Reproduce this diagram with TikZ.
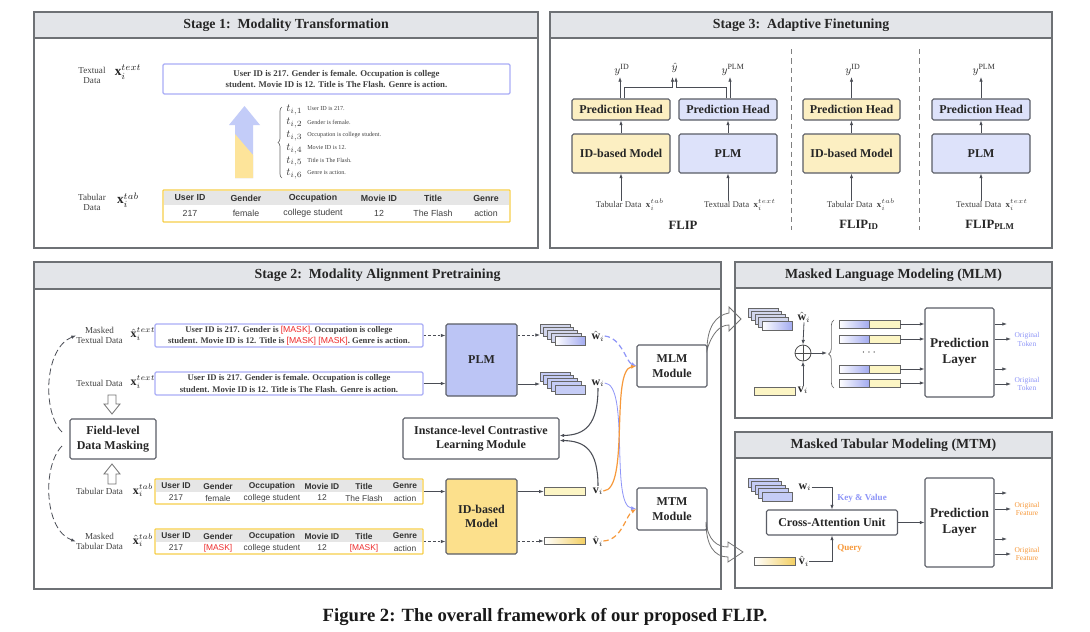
\documentclass[tikz,border=0pt]{standalone}
\usepackage{fontspec}
\setmainfont{Liberation Serif}
\setsansfont{Liberation Sans}
\usepackage{amsmath}
\usetikzlibrary{arrows.meta,decorations.pathreplacing,calc}
\definecolor{panelc}{HTML}{6E7175}
\definecolor{titlec}{HTML}{E3E5E9}
\definecolor{boxc}{HTML}{5A5D66}
\definecolor{blueA}{HTML}{DDE2FA}
\definecolor{yelA}{HTML}{FCEFC2}
\definecolor{blueB}{HTML}{BCC5F5}
\definecolor{yelB}{HTML}{FCE08C}
\definecolor{lav}{HTML}{A9ADF6}
\definecolor{tabY}{HTML}{F6CF4A}
\definecolor{hdr}{HTML}{E6E6E6}
\definecolor{maskred}{HTML}{EE2B2B}
\definecolor{conB}{HTML}{8E95F8}
\definecolor{conO}{HTML}{F7993B}
\definecolor{arrc}{HTML}{4A4D55}
\definecolor{arrowblue}{HTML}{C3CCF8}
\definecolor{arrowyel}{HTML}{FDE49A}
\definecolor{barY}{HTML}{FCF5C4}
\definecolor{yelG}{HTML}{F3CF62}
\definecolor{blueG}{HTML}{A3ABF0}
\definecolor{stkback}{HTML}{D2D6EC}
\definecolor{stkw}{HTML}{C5CCF6}
\newcommand{\fsz}[2]{\fontsize{#1}{#2}\selectfont}
\tikzset{
 sz/.style 2 args={minimum width=#1*0.75pt, minimum height=#2*0.75pt, inner sep=0pt},
 panelline/.style={draw=panelc, line width=0.9pt},
 ttl/.style={font=\fsz{10.4}{12}\bfseries, text=black!85},
 mbox/.style={draw=boxc, line width=0.8pt, rounded corners=1.2pt, align=center, font=\fsz{9}{11}\bfseries, text=black!85},
 txtbox/.style={draw=lav, line width=0.9pt, rounded corners=1pt, align=center, font=\fsz{6.6}{8.6}\bfseries, text=black!75},
 tabframe/.style={draw=tabY, line width=0.9pt, rounded corners=0.5pt},
 th/.style={font=\sffamily\bfseries\fsz{6.6}{8}, text=black!80, inner sep=0pt},
 td/.style={font=\sffamily\fsz{6.6}{8}, text=black!75, inner sep=0pt},
 th2/.style={font=\sffamily\bfseries\fsz{6.3}{7}, text=black!80, inner sep=0pt},
 td2/.style={font=\sffamily\fsz{6.3}{7}, text=black!75, inner sep=0pt},
 lbl/.style={font=\fsz{6.8}{7.6}, align=center, text=black!75, inner sep=0pt},
 sym/.style={font=\fsz{10}{11}, text=black!85, inner sep=0pt},
 arr/.style={-{Latex[length=3.5pt,width=2.6pt]}, draw=arrc, line width=0.6pt},
 darr/.style={arr, dash pattern=on 2pt off 1.5pt},
 stk/.style={draw=black!60, line width=0.5pt},
 hollow/.style={draw=black!55, fill=white, line width=0.6pt},
 tiny/.style={font=\fsz{4.6}{5}, text=black!75, anchor=west, inner sep=0pt},
}
\newcommand{\embstack}[6]{% x y dx dy back-fill front-style
  \foreach \k in {0,1,2,3} {\draw[stk, fill=#5] ({#1+\k*#3},{#2+\k*#4}) rectangle ++(30,9.5);}
  \draw[stk, #6] ({#1+4*#3},{#2+4*#4}) rectangle ++(30,9.5);
}
\begin{document}
\begin{tikzpicture}[x=0.75pt,y=-0.75pt]
\useasboundingbox (0,0) rectangle (1090,632);
\fill[white] (0,0) rectangle (1090,632);

% ---------- hollow curved arrows (behind) ----------
\draw[hollow] (707,350) .. controls (707,327) and (716,315) .. (729,313) -- (729,307) -- (741,319) -- (729,331) -- (729,325) .. controls (720,325) and (712,333) .. (707,350) -- cycle;
\draw[hollow] (706,522) .. controls (708,540) and (717,547) .. (728,547) -- (728,542) -- (743,552) -- (728,562) -- (728,557) .. controls (714,557) and (706,545) .. (706,522) -- cycle;

% ---------- panels ----------
\draw[panelline, fill=titlec] (34,12) rectangle (538,38);
\draw[panelline] (34,12) rectangle (538,248);
\node[ttl] (t1) at (286,25.5) {Stage 1:\ \ Modality Transformation};
\draw[panelline, fill=titlec] (550,12) rectangle (1052,38);
\draw[panelline] (550,12) rectangle (1052,248);
\node[ttl] (t3) at (801,25.5) {Stage 3:\ \ Adaptive Finetuning};
\draw[panelline, fill=titlec] (34,262) rectangle (721,289);
\draw[panelline] (34,262) rectangle (721,589);
\node[ttl] (t2) at (377.5,275.5) {Stage 2:\ \ Modality Alignment Pretraining};
\draw[panelline, fill=titlec] (735,262) rectangle (1052,288);
\draw[panelline] (735,262) rectangle (1052,418);
\node[ttl] (tmlm) at (893.5,275) {Masked Language Modeling (MLM)};
\draw[panelline, fill=titlec] (735,432) rectangle (1052,458);
\draw[panelline] (735,432) rectangle (1052,588);
\node[ttl] (tmtm) at (893.5,445) {Masked Tabular Modeling (MTM)};

% ---------- Stage 1 ----------
\node[lbl] (s1l1) at (92,75) {Textual\\Data};
\node[sym] (s1x1) at (128,72) {$\mathbf{x}_i^{text}$};
\node[txtbox, sz={347}{30}] (s1txt) at (336.5,79) {User ID is 217. Gender is female. Occupation is college\\student. Movie ID is 12. Title is The Flash. Genre is action.};
\fill[arrowblue] (235,178) -- (235,125) -- (229,125) -- (244.5,106) -- (260,125) -- (253,125) -- (253,178) -- cycle;
\fill[arrowyel] (235,178) -- (235,134) -- (253,155) -- (253,178) -- cycle;
\draw[decorate, decoration={brace,amplitude=3pt}, black!60, line width=0.5pt] (282,178) -- (282,107);
\foreach \k/\yy/\tx in {1/110/User ID is 217., 2/123/Gender is female., 3/136/Occupation is college student., 4/149/Movie ID is 12., 5/161.5/Title is The Flash., 6/174/Genre is action.}{
  \node[font=\fsz{8}{9}, text=black!75, anchor=west, inner sep=0pt] (tt\k) at (286,\yy) {$t_{i,\k}$};
  \node[tiny] (ts\k) at (307,{\yy-1}) {\tx};
}
\fill[hdr] (164,191) rectangle (509,205);
\node[tabframe, sz={347}{32}] (s1tab) at (336.5,206) {};
\foreach \cx/\h/\v in {190/User ID/217, 246/Gender/female, 313/Occupation/college student, 379/Movie ID/12, 433/Title/The Flash, 486/Genre/action}{
  \node[th] (sa\cx) at (\cx,198) {\h};
  \node[td] (sb\cx) at (\cx,213.5) {\v};
}
\node[lbl] (s1l2) at (92,202) {Tabular\\Data};
\node[sym] (s1x2) at (128,200) {$\mathbf{x}_i^{tab}$};

% ---------- Stage 3 ----------
\node[mbox, fill=yelA, sz={98}{21}] (ph1) at (621,109.5) {Prediction Head};
\node[mbox, fill=blueA, sz={98}{21}] (ph2) at (728,109.5) {Prediction Head};
\node[mbox, fill=yelA, sz={98}{39}] (id3) at (621,153.5) {ID-based Model};
\node[mbox, fill=blueA, sz={98}{39}] (plm3) at (728,153.5) {PLM};
\node[mbox, fill=yelA, sz={97}{21}] (ph3) at (851.5,109.5) {Prediction Head};
\node[mbox, fill=yelA, sz={97}{39}] (id3b) at (851.5,153.5) {ID-based Model};
\node[mbox, fill=blueA, sz={98}{21}] (ph4) at (981,109.5) {Prediction Head};
\node[mbox, fill=blueA, sz={98}{39}] (plm3b) at (981,153.5) {PLM};
\draw[arr] (id3.north) -- (ph1.south);
\draw[arr] (plm3.north) -- (ph2.south);
\draw[arr] (id3b.north) -- (ph3.south);
\draw[arr] (plm3b.north) -- (ph4.south);
\node[lbl, font=\fsz{6.6}{7}] (in1) at (630,205) {Tabular Data\ \ $\mathbf{x}_i^{tab}$};
\node[lbl, font=\fsz{6.6}{7}] (in2) at (740,205) {Textual Data\ \ $\mathbf{x}_i^{text}$};
\node[lbl, font=\fsz{6.6}{7}] (in3) at (861,205) {Tabular Data\ \ $\mathbf{x}_i^{tab}$};
\node[lbl, font=\fsz{6.6}{7}] (in4) at (992,205) {Textual Data\ \ $\mathbf{x}_i^{text}$};
\coordinate (ia1) at (621,201); \coordinate (ia2) at (728,201);
\coordinate (ia3) at (851.5,201); \coordinate (ia4) at (981,201);
\draw[arr] (ia1) -- (id3.south);
\draw[arr] (ia2) -- (plm3.south);
\draw[arr] (ia3) -- (id3b.south);
\draw[arr] (ia4) -- (plm3b.south);
\node[font=\fsz{8.5}{9}, text=black!80] (yid) at (622,70) {$y^{\mathrm{ID}}$};
\node[font=\fsz{8.5}{9}, text=black!80] (yplm) at (733,70) {$y^{\mathrm{PLM}}$};
\node[font=\fsz{8.5}{9}, text=black!80] (yhat) at (674.5,68) {$\hat{y}$};
\node[font=\fsz{8.5}{9}, text=black!80] (yid2) at (853,70) {$y^{\mathrm{ID}}$};
\node[font=\fsz{8.5}{9}, text=black!80] (yplm2) at (984,70) {$y^{\mathrm{PLM}}$};
\coordinate (o1) at (620,77); \coordinate (o2) at (730,77);
\coordinate (o3) at (851.5,77); \coordinate (o4) at (981,77);
\coordinate (oh1) at (672.5,77); \coordinate (oh2) at (676,77);
\draw[arr] (ph1.north -| o1) -- (o1);
\draw[arr] (ph2.north -| o2) -- (o2);
\draw[arr] (ph3.north) -- (o3);
\draw[arr] (ph4.north) -- (o4);
\draw[arr] ([xshift=2.2pt]ph1.north) |- (672.5,87) -- (oh1);
\draw[arr] ([xshift=-1pt]ph2.north) |- (676,87) -- (oh2);
\draw[black!50, line width=0.7pt, dash pattern=on 4pt off 3pt] (791,49) -- (791,230);
\draw[black!50, line width=0.7pt, dash pattern=on 4pt off 3pt] (919,49) -- (919,230);
\node[font=\fsz{9.5}{10}\bfseries, text=black!85] (f1) at (683,225) {FLIP};
\node[font=\fsz{9.5}{10}\bfseries, text=black!85] (f2) at (859,225) {FLIP$_{\text{ID}}$};
\node[font=\fsz{9.5}{10}\bfseries, text=black!85] (f3) at (990,225) {FLIP$_{\text{PLM}}$};

% ---------- Stage 2 ----------
\node[lbl] (l2a) at (99.5,335.5) {Masked\\Textual Data};
\node[sym, font=\fsz{9}{10}] (x2a) at (143,334) {$\hat{\mathbf{x}}_i^{text}$};
\node[lbl] (l2b) at (99.5,383) {Textual Data};
\node[sym, font=\fsz{9}{10}] (x2b) at (143,382) {$\mathbf{x}_i^{text}$};
\node[lbl] (l2c) at (99.5,491) {Tabular Data};
\node[sym, font=\fsz{9}{10}] (x2c) at (143,490) {$\mathbf{x}_i^{tab}$};
\node[lbl] (l2d) at (99.5,541.5) {Masked\\Tabular Data};
\node[sym, font=\fsz{9}{10}] (x2d) at (143,540) {$\hat{\mathbf{x}}_i^{tab}$};

\node[txtbox, sz={268}{23}, font=\fsz{6.5}{8.3}\bfseries] (s2m) at (289,335.5) {User ID is 217. Gender is {\color{maskred}\sffamily\mdseries [MASK]}. Occupation is college\\student. Movie ID is 12. Title is {\color{maskred}\sffamily\mdseries [MASK] [MASK]}. Genre is action.};
\node[txtbox, sz={268}{23}, font=\fsz{6.5}{8.3}\bfseries] (s2t) at (289,383.5) {User ID is 217. Gender is female. Occupation is college\\student. Movie ID is 12. Title is The Flash. Genre is action.};

\fill[hdr] (156,480) rectangle (422,492);
\node[tabframe, sz={268}{25}] (s2tab) at (289,491.5) {};
\fill[hdr] (156,530) rectangle (422,542);
\node[tabframe, sz={268}{25}] (s2mtab) at (289,541.5) {};
\foreach \cx/\h/\v/\w in {176/User ID/217/217, 218/Gender/female/{\color{maskred}[MASK]}, 272/Occupation/college student/college student, 322/Movie ID/12/12, 364/Title/The Flash/{\color{maskred}[MASK]}, 405/Genre/action/action}{
  \node[th2] (ta\cx) at (\cx,486) {\h};
  \node[td2] (tb\cx) at (\cx,498) {\v};
  \node[th2] (tc\cx) at (\cx,536) {\h};
  \node[td2] (td\cx) at (\cx,548) {\w};
}

\node[mbox, sz={86}{40}] (fdm) at (113,439) {Field-level\\Data Masking};
\draw[hollow] (108,395) -- (116,395) -- (116,404) -- (120,404) -- (112,414) -- (104,404) -- (108,404) -- cycle;
\draw[hollow] (108,484) -- (116,484) -- (116,474) -- (120,474) -- (112,464) -- (104,474) -- (108,474) -- cycle;
\draw[arr, dash pattern=on 5pt off 2.5pt] (62,432) .. controls (42,412) and (44,348) .. (l2a.west);
\draw[arr, dash pattern=on 5pt off 2.5pt] (62,446) .. controls (42,466) and (44,530) .. (l2d.west);

\node[mbox, fill=blueB, sz={71}{72}] (plm2) at (481.5,360) {PLM};
\node[mbox, fill=yelB, sz={71}{75}] (idm2) at (481.5,516.5) {ID-based\\Model};
\node[mbox, sz={156}{41}] (icl) at (481,438.5) {Instance-level Contrastive\\Learning Module};
\node[mbox, sz={70}{42}] (mlmm) at (672,366) {MLM\\Module};
\node[mbox, sz={70}{42}] (mtmm) at (672,509) {MTM\\Module};

\draw[darr] (s2m.east) -- (s2m.east -| plm2.west);
\draw[arr] (s2t.east) -- (s2t.east -| plm2.west);
\draw[arr] (s2tab.east) -- (s2tab.east -| idm2.west);
\draw[darr] (s2mtab.east) -- (s2mtab.east -| idm2.west);

\embstack{540}{324}{3.75}{3}{stkback}{left color=white, right color=blueG}
\embstack{540}{372}{3.75}{3.25}{stkw}{fill=stkw}
\coordinate (sA) at (540,335); \coordinate (sB) at (540,384);
\draw[darr] (plm2.east |- sA) -- (sA);
\draw[arr] (plm2.east |- sB) -- (sB);
\node[stk, fill=barY, sz={41}{7.5}] (vbar) at (564.5,491.5) {};
\node[stk, left color=white, right color=yelG, sz={41}{7.5}] (vhbar) at (564.5,541) {};
\draw[arr] (idm2.east |- vbar) -- (vbar.west);
\draw[darr] (idm2.east |- vhbar) -- (vhbar.west);

\node[sym, font=\fsz{9}{10}] (whl) at (598,336) {$\hat{\mathbf{w}}_i$};
\node[sym, font=\fsz{9}{10}] (wl) at (598,383) {$\mathbf{w}_i$};
\node[sym, font=\fsz{9}{10}] (vl) at (598,491) {$\mathbf{v}_i$};
\node[sym, font=\fsz{9}{10}] (vhl) at (598,541) {$\hat{\mathbf{v}}_i$};

\draw[arr, line width=0.8pt] ([yshift=-1pt]wl.south) .. controls (598,425) and (585,435) .. ([yshift=2.2pt]icl.east);
\draw[arr, line width=0.8pt] ([yshift=1pt]vl.north) .. controls (598,450) and (585,441) .. ([yshift=-1.5pt]icl.east);
\draw[conB, line width=0.9pt, dash pattern=on 4pt off 2.5pt, -{Latex[length=4pt,width=3pt]}] (whl.east) .. controls (622,338) and (626,362) .. (mlmm.west);
\draw[conB, line width=0.6pt, -{Latex[length=4pt,width=3pt]}] (wl.east) .. controls (630,384) and (610,505) .. (mtmm.west);
\draw[conO, line width=0.9pt, -{Latex[length=4pt,width=3pt]}] (vl.east) .. controls (630,490) and (610,370) .. (mlmm.west);
\draw[conO, line width=0.9pt, dash pattern=on 4pt off 2.5pt, -{Latex[length=4pt,width=3pt]}] (vhl.east) .. controls (622,540) and (626,515) .. (mtmm.west);

% ---------- MLM panel ----------
\embstack{748}{308}{3.5}{3.25}{stkback}{left color=white, right color=blueG}
\node[sym, font=\fsz{9}{10}] (whm) at (804,317) {$\hat{\mathbf{w}}_i$};
\node[circle, draw=black!70, line width=0.6pt, minimum size=12pt, inner sep=0pt] (opl) at (803,353) {};
\draw[black!70, line width=0.6pt] (opl.north) -- (opl.south) (opl.west) -- (opl.east);
\node[sym, font=\fsz{9}{10}] (vm) at (803,390) {$\mathbf{v}_i$};
\node[stk, fill=barY, sz={41}{8}] (vmbar) at (774.5,391) {};
\draw[arr] (whm.south) -- (opl.north);
\draw[arr] (vm.north) -- (opl.south);
\coordinate (opo) at (827,353);
\draw[arr] (opl.east) -- (opo);
\draw[decorate, decoration={brace,amplitude=4pt}, black!60, line width=0.5pt] (834,388) -- (834,320);
\node[mbox, sz={69}{89}, font=\fsz{10}{12}\bfseries] (pl1) at (959.5,352.5) {Prediction\\Layer};
\foreach \i/\yy in {1/324, 2/339, 3/369, 4/383}{
  \fill[left color=white, right color=blueG] (839,{\yy-4}) rectangle (869,{\yy+4});
  \fill[barY] (869,{\yy-4}) rectangle (900,{\yy+4});
  \draw[stk] (869,{\yy-4}) -- (869,{\yy+4});
  \node[stk, sz={61}{8}] (bar\i) at (869.5,\yy) {};
  \draw[arr] (bar\i.east) -- (bar\i.east -| pl1.west);
}
\node[font=\fsz{9}{10}, text=black!75] (dots) at (870,353) {$\cdots$};
\coordinate (e1) at (1007,324); \coordinate (e2) at (1011,339);
\coordinate (e3) at (1007,369); \coordinate (e4) at (1011,384);
\draw[arr] (pl1.east |- e1) -- (e1);
\draw[arr] (pl1.east |- e2) -- (e2);
\draw[arr] (pl1.east |- e3) -- (e3);
\draw[arr] (pl1.east |- e4) -- (e4);
\node[font=\fsz{5.6}{6.4}, text=conB, align=center, inner sep=0pt] (ot1) at (1027,339.5) {Original\\Token};
\node[font=\fsz{5.6}{6.4}, text=conB, align=center, inner sep=0pt] (ot2) at (1027,384) {Original\\Token};

% ---------- MTM panel ----------
\embstack{748}{478}{3.5}{3.5}{stkw}{fill=stkw}
\node[sym, font=\fsz{9}{10}] (wm) at (805,487) {$\mathbf{w}_i$};
\node[mbox, sz={131}{25}] (ca) at (832,522.5) {Cross-Attention Unit};
\node[sym, font=\fsz{9}{10}] (vhm) at (804,561) {$\hat{\mathbf{v}}_i$};
\node[stk, left color=white, right color=yelG, sz={41}{8}] (vhmbar) at (774.5,561) {};
\draw[arr] (wm.east) -| (ca.north);
\draw[arr] (vhm.east) -| (ca.south);
\node[font=\fsz{6.8}{7.5}\bfseries, text=conB, anchor=west, inner sep=0pt] (kv) at (837,498) {Key \& Value};
\node[font=\fsz{6.8}{7.5}\bfseries, text=conO, anchor=west, inner sep=0pt] (qq) at (837,548) {Query};
\node[mbox, sz={69}{89}, font=\fsz{10}{12}\bfseries] (pl2) at (959.5,522.5) {Prediction\\Layer};
\draw[arr] (ca.east) -- (pl2.west);
\coordinate (g1) at (1007,493); \coordinate (g2) at (1011,509);
\coordinate (g3) at (1007,539); \coordinate (g4) at (1011,554);
\draw[arr] (pl2.east |- g1) -- (g1);
\draw[arr] (pl2.east |- g2) -- (g2);
\draw[arr] (pl2.east |- g3) -- (g3);
\draw[arr] (pl2.east |- g4) -- (g4);
\node[font=\fsz{5.6}{6.4}, text=conO, align=center, inner sep=0pt] (of1) at (1027,509) {Original\\Feature};
\node[font=\fsz{5.6}{6.4}, text=conO, align=center, inner sep=0pt] (of2) at (1027,554) {Original\\Feature};

% ---------- caption ----------
\node[font=\fsz{14}{16}\bfseries, text=black!90] (cap) at (545,617) {Figure 2: The overall framework of our proposed FLIP.};
\end{tikzpicture}
\end{document}
